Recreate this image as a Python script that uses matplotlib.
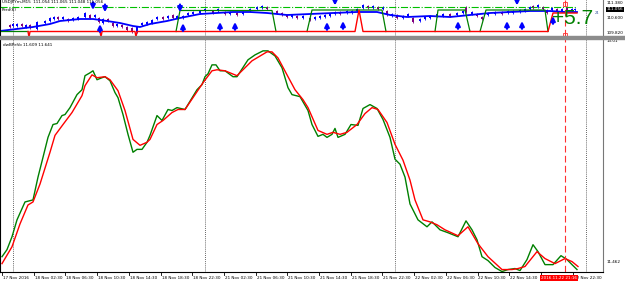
import numpy as np
import matplotlib
matplotlib.use('Agg')
import matplotlib.pyplot as plt
from matplotlib.patches import Rectangle

# x positions are bar positions on the chart (4 hours per time label step)
time_labels = ['17 Nov 2016', '18 Nov 02:30', '18 Nov 06:30', '18 Nov 10:30', '18 Nov 14:30',
	'18 Nov 18:30', '18 Nov 22:30', '21 Nov 02:30', '21 Nov 06:30', '21 Nov 10:30',
	'21 Nov 14:30', '21 Nov 18:30', '21 Nov 22:30', '22 Nov 02:30', '22 Nov 06:30',
	'22 Nov 10:30', '22 Nov 14:30', '22 Nov 18:30', '22 Nov 22:30']
day_breaks = [13, 205, 395, 586]
cursor_x = 565

# --- price window (USDJPYm, M15)
candle_x = [10, 13, 17, 22, 26, 30, 37, 45, 50, 54, 58, 63, 68, 73, 78, 85, 90, 95, 99, 103,
	108, 113, 117, 122, 127, 132, 137, 142, 147, 152, 157, 163, 168, 173, 177, 183, 188, 193, 200, 205,
	213, 218, 225, 230, 237, 243, 250, 257, 262, 267, 277, 282, 287, 292, 297, 303, 310, 315, 320, 325,
	330, 335, 340, 347, 352, 357, 363, 368, 373, 378, 383, 387, 392, 397, 403, 408, 413, 420, 425, 430,
	437, 443, 450, 457, 463, 466, 472, 477, 482, 488, 495, 502, 508, 513, 520, 525, 530, 533, 538, 543,
	547, 552, 557, 562, 567, 572, 575]
candle_open = [110.236, 110.184, 110.184, 110.288, 110.132, 110.236, 110.028, 110.340, 110.444, 110.548,
	110.652, 110.548, 110.548, 110.496, 110.548, 110.652, 110.756, 110.652, 110.600, 110.340,
	110.548, 110.340, 110.184, 110.236, 110.132, 110.080, 109.872, 110.236, 110.288, 110.340,
	110.548, 110.652, 110.600, 110.756, 110.600, 110.600, 110.756, 110.808, 110.860, 110.964,
	110.964, 110.964, 110.912, 110.808, 110.860, 110.808, 110.964, 111.068, 111.120, 111.172,
	110.964, 110.860, 110.756, 110.652, 110.704, 110.600, 110.600, 110.548, 110.600, 110.652,
	110.704, 110.808, 110.912, 110.860, 110.860, 110.964, 111.120, 111.224, 111.120, 111.172,
	111.068, 110.964, 110.704, 110.756, 110.600, 110.704, 110.600, 110.444, 110.548, 110.600,
	110.704, 110.704, 110.808, 110.756, 110.860, 111.172, 110.808, 110.808, 110.652, 110.756,
	110.808, 110.912, 110.860, 110.860, 110.912, 110.964, 111.068, 111.224, 111.172, 111.172,
	111.016, 111.016, 111.068, 110.964, 111.120, 110.964, 111.016]
candle_close = [110.132, 110.288, 110.288, 110.184, 110.236, 110.080, 110.392, 110.444, 110.600, 110.652,
	110.548, 110.652, 110.444, 110.600, 110.652, 110.860, 110.600, 110.756, 110.392, 110.548,
	110.444, 110.184, 110.288, 110.132, 109.976, 109.872, 110.132, 110.340, 110.392, 110.496,
	110.652, 110.548, 110.704, 110.600, 110.704, 110.704, 110.860, 110.912, 110.964, 111.068,
	110.860, 111.068, 110.808, 110.912, 110.756, 110.912, 111.068, 111.172, 111.224, 111.068,
	110.860, 110.756, 110.652, 110.756, 110.600, 110.704, 110.496, 110.652, 110.704, 110.756,
	110.808, 110.912, 110.808, 110.964, 110.964, 111.068, 111.276, 111.120, 111.224, 111.068,
	111.172, 110.756, 110.808, 110.600, 110.704, 110.808, 110.392, 110.548, 110.652, 110.704,
	110.808, 110.808, 110.704, 110.860, 110.964, 110.912, 110.912, 110.704, 110.548, 110.860,
	110.912, 110.808, 110.964, 110.964, 111.016, 111.068, 111.172, 111.120, 111.276, 111.068,
	110.860, 111.120, 110.964, 111.068, 111.016, 111.068, 111.068]

ma_x = [0, 33, 50, 60, 80, 93, 107, 120, 133, 140, 150, 167, 180, 200, 233, 250, 267, 287, 310, 333,
	357, 377, 390, 407, 430, 450, 470, 490, 510, 530, 550, 565, 577]
ma_y = [109.924, 110.132, 110.288, 110.444, 110.548, 110.548, 110.444, 110.340, 110.184, 110.132,
	110.288, 110.444, 110.600, 110.808, 110.912, 110.912, 110.860, 110.756, 110.808, 110.860,
	110.912, 110.912, 110.756, 110.652, 110.704, 110.652, 110.756, 110.860, 110.912, 110.964,
	110.964, 110.912, 110.912]

trend_up_x = [0, 28, np.nan, 176, 180, 272, 276, np.nan, 307, 312, 382, 386, np.nan,
	435, 438, 465, 470, np.nan, 480, 486, 545, 548]
trend_up_y = [109.898, 109.898, np.nan, 109.898, 110.990, 110.990, 109.898, np.nan, 109.898, 111.016, 111.016, 109.898, np.nan,
	109.898, 111.016, 111.016, 109.898, np.nan, 109.898, 111.016, 111.016, 109.898]
trend_dn_x = [28, 29, 30, 100, 101, 102, 135, 136, 137, 355, 359, 363, 548, 553, 577]
trend_dn_y = [109.898, 109.600, 109.898, 109.898, 109.600, 109.898, 109.898, 109.600, 109.898,
	109.898, 111.016, 109.898, 109.898, 110.860, 110.860]

buy_x = [100, 183, 220, 235, 327, 343, 458, 507, 522, 553]
buy_y = [110.28, 110.33, 110.39, 110.39, 110.39, 110.44, 110.44, 110.44, 110.44, 110.70]
sell_x = [93, 105, 180, 335, 517]
sell_y = [111.02, 110.90, 110.90, 111.25, 111.25]
price_level = 111.15
last_price = 111.056

# --- dwBPeVo indicator window
fast_x = [2, 7, 12, 17, 25, 33, 38, 43, 48, 53, 57, 62, 65, 70, 77, 82, 85, 90, 93, 97,
	102, 105, 110, 115, 118, 123, 128, 133, 137, 142, 147, 150, 157, 162, 168, 172, 177, 185, 197, 202,
	205, 208, 212, 216, 220, 225, 233, 237, 248, 255, 263, 268, 275, 282, 288, 292, 300, 308, 312, 318,
	323, 327, 332, 335, 338, 345, 351, 358, 363, 370, 377, 383, 390, 395, 400, 405, 410, 418, 427, 432,
	435, 440, 448, 458, 466, 472, 477, 482, 488, 495, 502, 508, 515, 520, 527, 533, 538, 545, 553, 561,
	567, 572, 577]
fast_y = [11.496, 11.545, 11.634, 11.751, 11.875, 11.889, 12.047, 12.184, 12.322, 12.411,
	12.418, 12.473, 12.480, 12.528, 12.618, 12.652, 12.749, 12.769, 12.783, 12.721,
	12.735, 12.742, 12.714, 12.632, 12.597, 12.480, 12.343, 12.219, 12.239, 12.239,
	12.288, 12.336, 12.473, 12.439, 12.515, 12.508, 12.528, 12.515, 12.652, 12.687,
	12.742, 12.762, 12.824, 12.824, 12.783, 12.783, 12.742, 12.742, 12.859, 12.893,
	12.921, 12.921, 12.886, 12.804, 12.666, 12.618, 12.604, 12.508, 12.411, 12.329,
	12.343, 12.322, 12.343, 12.384, 12.322, 12.343, 12.411, 12.405, 12.522, 12.549,
	12.522, 12.446, 12.322, 12.171, 12.136, 12.047, 11.861, 11.751, 11.703, 11.737,
	11.717, 11.682, 11.662, 11.634, 11.744, 11.682, 11.613, 11.496, 11.469, 11.421,
	11.393, 11.407, 11.414, 11.400, 11.476, 11.579, 11.531, 11.441, 11.441, 11.503,
	11.476, 11.441, 11.407]
slow_x = [2, 12, 20, 28, 33, 40, 50, 55, 63, 72, 82, 85, 92, 97, 105, 110, 118, 125, 133, 140,
	147, 150, 157, 163, 172, 178, 185, 203, 212, 217, 225, 237, 252, 267, 272, 278, 287, 295, 303, 308,
	318, 327, 333, 340, 347, 357, 365, 372, 378, 387, 395, 403, 410, 415, 423, 430, 437, 445, 458, 468,
	478, 488, 502, 512, 518, 525, 537, 545, 555, 565, 572, 578]
slow_y = [11.448, 11.565, 11.723, 11.854, 11.875, 11.999, 12.219, 12.336, 12.411, 12.494,
	12.611, 12.680, 12.755, 12.735, 12.742, 12.721, 12.645, 12.508, 12.308, 12.267,
	12.288, 12.308, 12.411, 12.439, 12.494, 12.515, 12.515, 12.700, 12.783, 12.790,
	12.783, 12.749, 12.852, 12.914, 12.914, 12.872, 12.755, 12.652, 12.583, 12.528,
	12.370, 12.343, 12.357, 12.343, 12.357, 12.411, 12.487, 12.528, 12.515, 12.425,
	12.274, 12.164, 12.026, 11.889, 11.751, 11.737, 11.717, 11.682, 11.641, 11.703,
	11.586, 11.496, 11.407, 11.407, 11.414, 11.428, 11.531, 11.483, 11.448, 11.483,
	11.462, 11.428]

FS = 3.0
fig = plt.figure(figsize=(6.25, 2.98), dpi=100)
right = 603 / 625.
ax1 = fig.add_axes([0, 1 - 36 / 298., right, 36 / 298.])
ax2 = fig.add_axes([0, 1 - 272 / 298., right, 234 / 298.])
fig.patches.append(Rectangle((0, 1 - 38.5 / 298.), 1, 2.5 / 298., transform=fig.transFigure,
	color='#8c8c8c', zorder=5))

for ax in (ax1, ax2):
	ax.set_xlim(0, 603)
	ax.set_xticks([])
	ax.set_yticks([])
	for s in ax.spines.values():
		s.set_visible(False)
	ax.spines['left'].set_visible(True)
	ax.spines['right'].set_visible(True)
	ax.spines['left'].set_linewidth(0.8)
	ax.spines['right'].set_color('#777777')
	for d in day_breaks:
		ax.axvline(d, color='#333333', ls=(0, (1, 1.5)), lw=0.6)
	ax.axvline(cursor_x, color='#ff3030', ls=(0, (6, 3)), lw=0.8, zorder=6)

# price window
ax1.set_ylim(109.664, 111.536)
ax1.hlines(price_level, 0, 577, color='#00c000', ls='-.', lw=0.8)
for x, o, c in zip(candle_x, candle_open, candle_close):
	col = '#0000ff' if c >= o else '#800080'
	lo, hi = min(o, c), max(o, c)
	ax1.vlines(x, lo - 0.06, hi + 0.06, color=col, lw=0.6)
	ax1.bar(x, hi - lo, bottom=lo, width=2.6, color=col, lw=0)
ax1.plot(ma_x, ma_y, color='#0000ff', lw=1.3)
ax1.plot(trend_up_x, trend_up_y, color='#008000', lw=0.9)
ax1.plot(trend_dn_x, trend_dn_y, color='#ff0000', lw=1.0)
for x, y in zip(buy_x, buy_y):
	ax1.annotate('', xy=(x, y), xytext=(x, y - 0.4),
		arrowprops=dict(arrowstyle='-|>', color='#0000ff', lw=1.6, mutation_scale=6.5, shrinkA=0, shrinkB=0))
for x, y in zip(sell_x, sell_y):
	ax1.annotate('', xy=(x, y), xytext=(x, y + 0.4),
		arrowprops=dict(arrowstyle='-|>', color='#0000ff', lw=1.6, mutation_scale=6.5, shrinkA=0, shrinkB=0))
ax1.plot([cursor_x, cursor_x], [111.32, 109.72], 's', ms=2.5, mfc='none', mec='#ff3030', mew=0.6)
ax1.text(573, 110.6, '+5.7', color='#008000', fontsize=15, family='Liberation Sans',
	ha='center', va='center', zorder=7)
ax1.text(2, 111.42, 'USDJPYm,M15  111.054 111.065 111.048 111.056', fontsize=FS, va='center')
ax1.text(2, 111.02, 'Perd(6)', fontsize=FS, va='center')
ax1.text(595, 110.86, '24', fontsize=2.6, color='#3050a0', ha='left', va='center')
yt = ax1.get_yaxis_transform()
for v, s in [(111.380, '111.380'), (110.600, '110.600'), (109.820, '109.820')]:
	ax1.text(1.006, v, s, transform=yt, fontsize=FS, va='center', clip_on=False)
ax1.text(1.006, last_price, '%.3f' % last_price, transform=yt, fontsize=FS, va='center', color='white',
	bbox=dict(boxstyle='square,pad=0.15', fc='black', ec='none'), clip_on=False)

# indicator window
ax2.set_ylim(11.39, 13.01)
ax2.plot(fast_x, fast_y, color='#008000', lw=1.0)
ax2.plot(slow_x, slow_y, color='#ff0000', lw=1.0)
ax2.spines['bottom'].set_visible(True)
ax2.spines['bottom'].set_linewidth(0.8)
ax2.text(3, 12.96, 'dwBPeVo 11.609 11.641', fontsize=FS, va='center')
yt2 = ax2.get_yaxis_transform()
ax2.text(1.006, 12.99, '13.01', transform=yt2, fontsize=FS, va='center', clip_on=False)
ax2.text(1.006, 11.462, '11.462', transform=yt2, fontsize=FS, va='center', clip_on=False)

xt = ax2.get_xaxis_transform()
for k, lab in enumerate(time_labels):
	x = 2 + 31.7 * k
	ax2.plot([x, x], [0, -3 / 234.], transform=xt, color='black', lw=0.6, clip_on=False)
	ax2.text(x + 1, -4 / 234., lab, transform=xt, fontsize=FS, va='top', ha='left', clip_on=False)
ax2.text(559, -4 / 234., '2016.11.22 21:16', transform=xt, fontsize=FS, va='top', ha='center',
	color='white', bbox=dict(boxstyle='square,pad=0.25', fc='#ff0000', ec='none'), clip_on=False, zorder=8)

fig.savefig('out.png', dpi=100)
